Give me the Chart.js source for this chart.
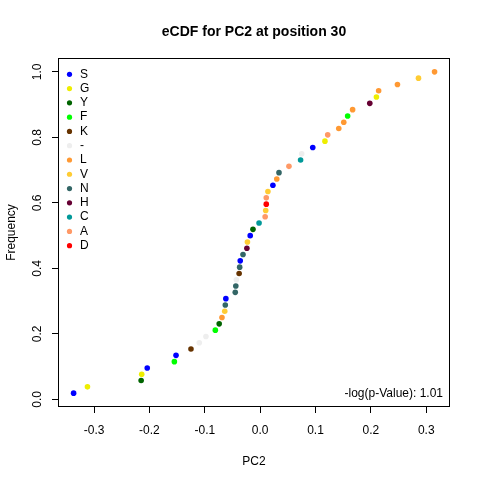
<!DOCTYPE html>
<html lang="en">
<head>
<meta charset="UTF-8">
<title>eCDF for PC2 at position 30</title>
<script src="https://cdn.jsdelivr.net/npm/chart.js"></script>
<style>
  html, body { margin: 0; padding: 0; background: #fff; }
  #wrap { width: 480px; height: 480px; }
</style>
</head>
<body>
<div id="wrap"><canvas id="ecdf" width="480" height="480"></canvas></div>
<script>
// PC2 value of every sequence at position 30, sorted
const pc2Values = [
  -0.337, -0.312, -0.215, -0.214, -0.204, -0.155, -0.152, -0.125, -0.110, -0.098,
  -0.081, -0.074, -0.069, -0.064, -0.063, -0.062, -0.045, -0.044, -0.043, -0.038,
  -0.037, -0.036, -0.031, -0.024, -0.023, -0.018, -0.013, -0.002, 0.009, 0.010,
  0.011, 0.011, 0.014, 0.023, 0.030, 0.034, 0.052, 0.073, 0.075, 0.095,
  0.117, 0.122, 0.142, 0.151, 0.158, 0.167, 0.198, 0.210, 0.214, 0.248,
  0.286, 0.315
];
// residue found at each of those points
const pointResidues = [
  'S', 'G', 'Y', 'G', 'S', 'F', 'S', 'K', '-', '-',
  'F', 'Y', 'L', 'V', 'N', 'S', 'N', 'N', '-', 'K',
  'N', 'S', 'N', 'H', 'V', 'S', 'Y', 'C', 'A', 'V',
  'D', 'A', 'V', 'S', 'L', 'N', 'A', 'C', '-', 'S',
  'G', 'A', 'L', 'L', 'F', 'L', 'H', 'G', 'L', 'L',
  'V', 'L'
];
const legendLabels = ['S', 'G', 'Y', 'F', 'K', '-', 'L', 'V', 'N', 'H', 'C', 'A', 'D'];
const legendColors = ['#0000FF', '#EEEE00', '#006400', '#00FF00', '#663300', '#EEEEEE',
  '#FF9933', '#FFCC33', '#336666', '#660033', '#009999', '#FF9966', '#FF0000'];
const xTicks = [-0.3, -0.2, -0.1, 0, 0.1, 0.2, 0.3];
const yTicks = [0, 0.2, 0.4, 0.6, 0.8, 1.0];
const titleText = 'eCDF for PC2 at position 30';
const xTitle = 'PC2';
const yTitle = 'Frequency';
const pValueText = '-log(p-Value): 1.01';

const FONT = '"Liberation Sans", Arial, sans-serif';

// empirical cdf: k-th smallest value gets frequency k/n
const n = pc2Values.length;
const points = pc2Values.map((v, i) => ({ x: v, y: (i + 1) / n }));
const colorOf = r => legendColors[legendLabels.indexOf(r)];
const pointColors = pointResidues.map(colorOf);

// R-style extras: box, rotated y labels, titles, legend, p-value note
const rDecor = {
  id: 'rDecor',
  afterDraw(chart) {
    const ctx = chart.ctx;
    const a = chart.chartArea;
    const yScale = chart.scales.y;
    ctx.save();
    ctx.strokeStyle = '#000';
    ctx.lineWidth = 1;
    ctx.strokeRect(Math.round(a.left) - 0.5, Math.round(a.top) - 0.5,
      Math.round(a.right - a.left) + 1, Math.round(a.bottom - a.top) + 1);

    ctx.fillStyle = '#000';
    ctx.font = '12px ' + FONT;
    ctx.textAlign = 'center';
    ctx.textBaseline = 'middle';
    yTicks.forEach(v => {
      const py = yScale.getPixelForValue(v);
      ctx.save();
      ctx.translate(38, py);
      ctx.rotate(-Math.PI / 2);
      ctx.fillText(v.toFixed(1), 0, 0);
      ctx.restore();
    });

    const cx = (a.left + a.right) / 2;
    ctx.font = 'bold 14px ' + FONT;
    ctx.fillText(titleText, cx, 32);
    ctx.font = '12px ' + FONT;
    ctx.fillText(xTitle, cx, 462);
    ctx.save();
    ctx.translate(12, (a.top + a.bottom) / 2);
    ctx.rotate(-Math.PI / 2);
    ctx.fillText(yTitle, 0, 0);
    ctx.restore();

    // legend
    ctx.textAlign = 'left';
    legendLabels.forEach((lab, i) => {
      const ly = 74.3 + i * 14.28;
      ctx.beginPath();
      ctx.fillStyle = legendColors[i];
      ctx.arc(69.5, ly, 2.6, 0, Math.PI * 2);
      ctx.fill();
      ctx.fillStyle = '#000';
      ctx.fillText(lab, 80, ly);
    });

    ctx.textAlign = 'right';
    ctx.fillText(pValueText, 443, 394);
    ctx.restore();
  }
};

new Chart(document.getElementById('ecdf'), {
  type: 'scatter',
  data: {
    datasets: [{
      data: points,
      pointBackgroundColor: pointColors,
      pointBorderWidth: 0,
      pointRadius: 2.8,
      pointHoverRadius: 2.8
    }]
  },
  options: {
    responsive: false,
    animation: false,
    layout: { padding: { top: 59, right: 31, left: 0, bottom: 0 } },
    plugins: {
      legend: { display: false },
      tooltip: { enabled: false }
    },
    scales: {
      x: {
        type: 'linear',
        min: -0.3634,
        max: 0.3411,
        afterBuildTicks: s => { s.ticks = xTicks.map(v => ({ value: v })); },
        afterFit: s => { s.height = 74; },
        border: { display: false },
        grid: { drawOnChartArea: false, drawTicks: true, tickLength: 7, color: '#000' },
        ticks: {
          color: '#000',
          font: { size: 12, family: FONT },
          padding: 10,
          maxRotation: 0,
          callback: v => v.toFixed(1)
        }
      },
      y: {
        type: 'linear',
        min: -0.0200,
        max: 1.0392,
        afterBuildTicks: s => { s.ticks = yTicks.map(v => ({ value: v })); },
        afterFit: s => { s.width = 59; },
        border: { display: false },
        grid: { drawOnChartArea: false, drawTicks: true, tickLength: 7, color: '#000' },
        ticks: { display: false }
      }
    }
  },
  plugins: [rDecor]
});
</script>
</body>
</html>
